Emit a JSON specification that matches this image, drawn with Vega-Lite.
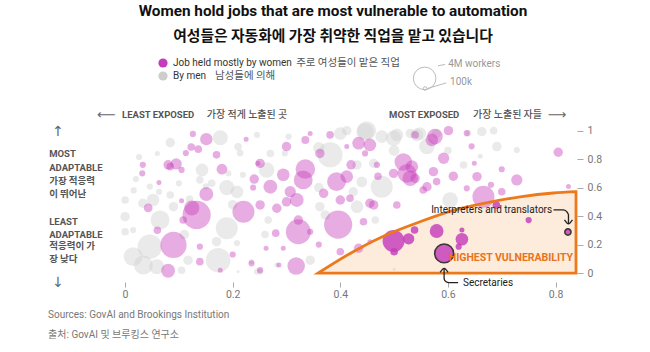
{
"$schema":"https://vega.github.io/schema/vega-lite/v6.json",
"width":466,"height":176,
"autosize":{"type":"none"},
"padding":{"left":110,"top":105,"right":74,"bottom":71},
"background":"#ffffff",
"config":{"view":{"stroke":null},"font":"Roboto, Noto Sans CJK KR, sans-serif"},
"title":{"text":"Women hold jobs that are most vulnerable to automation","subtitle":"여성들은 자동화에 가장 취약한 직업을 맡고 있습니다","anchor":"middle","frame":"group","offset":14,"dx":-10,"font":"Roboto","fontSize":15.3,"fontWeight":"bold","color":"#111111","subtitleFont":"Noto Sans CJK KR","subtitleFontSize":14.8,"subtitleFontWeight":"bold","subtitleColor":"#111111","subtitlePadding":10},
"datasets":{
"one":[{}],
"zone":[{"x":0.359,"y":0},{"x":0.424,"y":0.15},{"x":0.487,"y":0.27},{"x":0.548,"y":0.36},{"x":0.61,"y":0.44},{"x":0.673,"y":0.495},{"x":0.734,"y":0.535},{"x":0.796,"y":0.562},{"x":0.838,"y":0.571}],
"arrows":[
{"a":"i","o":1,"x":0.7962,"y":0.443},{"a":"i","o":2,"x":0.8147,"y":0.443},{"a":"i","o":3,"x":0.8221,"y":0.425},{"a":"i","o":4,"x":0.824,"y":0.408},{"a":"i","o":5,"x":0.824,"y":0.345},
{"a":"ih","o":1,"x":0.8166,"y":0.373},{"a":"ih","o":2,"x":0.824,"y":0.345},{"a":"ih","o":3,"x":0.8314,"y":0.373},
{"a":"s","o":1,"x":0.6189,"y":-0.068},{"a":"s","o":2,"x":0.6022,"y":-0.068},{"a":"s","o":3,"x":0.5955,"y":-0.058},{"a":"s","o":4,"x":0.5929,"y":-0.04},{"a":"s","o":5,"x":0.5929,"y":0.03},
{"a":"sh","o":1,"x":0.5855,"y":0.005},{"a":"sh","o":2,"x":0.5929,"y":0.033},{"a":"sh","o":3,"x":0.6003,"y":0.005}],
"jobs":[
{"x":0.177,"y":0.95,"n":1800000,"g":"men","z":"other"},{"x":0.084,"y":0.916,"n":700000,"g":"men","z":"other"},{"x":0.21,"y":0.886,"n":450000,"g":"men","z":"other"},{"x":0.214,"y":0.843,"n":350000,"g":"men","z":"other"},{"x":0.026,"y":0.815,"n":300000,"g":"men","z":"other"},{"x":0.143,"y":0.724,"n":1250000,"g":"men","z":"other"},{"x":0.139,"y":0.654,"n":450000,"g":"men","z":"other"},{"x":0.192,"y":0.7,"n":300000,"g":"men","z":"other"},{"x":0.219,"y":0.69,"n":300000,"g":"men","z":"other"},{"x":0.1,"y":0.63,"n":300000,"g":"men","z":"other"},{"x":0.161,"y":0.63,"n":450000,"g":"men","z":"other"},{"x":0.189,"y":0.6,"n":1800000,"g":"men","z":"other"},{"x":0.208,"y":0.57,"n":1250000,"g":"men","z":"other"},{"x":0.084,"y":0.548,"n":450000,"g":"men","z":"other"},{"x":0.063,"y":0.571,"n":300000,"g":"men","z":"other"},{"x":0.0,"y":0.513,"n":450000,"g":"men","z":"other"},{"x":0.052,"y":0.513,"n":1250000,"g":"men","z":"other"},{"x":0.033,"y":0.49,"n":700000,"g":"men","z":"other"},{"x":0.09,"y":0.466,"n":700000,"g":"men","z":"other"},{"x":0.189,"y":0.314,"n":3800000,"g":"men","z":"other"},{"x":0.065,"y":0.372,"n":2800000,"g":"men","z":"other"},{"x":0.0,"y":0.29,"n":450000,"g":"men","z":"other"},{"x":0.015,"y":0.302,"n":300000,"g":"men","z":"other"},{"x":0.0,"y":0.396,"n":700000,"g":"men","z":"other"},{"x":0.046,"y":0.185,"n":4700000,"g":"men","z":"other"},{"x":0.015,"y":0.115,"n":2800000,"g":"men","z":"other"},{"x":0.034,"y":0.056,"n":2800000,"g":"men","z":"other"},{"x":0.059,"y":0.044,"n":1800000,"g":"men","z":"other"},{"x":0.173,"y":0.09,"n":4700000,"g":"men","z":"other"},{"x":0.105,"y":0.02,"n":450000,"g":"men","z":"other"},{"x":0.117,"y":0.09,"n":700000,"g":"men","z":"other"},{"x":0.21,"y":0.01,"n":80000,"g":"men","z":"other"},{"x":0.208,"y":0.21,"n":300000,"g":"men","z":"other"},{"x":0.235,"y":0.08,"n":200000,"g":"men","z":"other"},{"x":0.245,"y":0.01,"n":300000,"g":"men","z":"other"},{"x":0.245,"y":0.97,"n":300000,"g":"men","z":"other"},{"x":0.304,"y":0.958,"n":300000,"g":"men","z":"other"},{"x":0.4,"y":0.98,"n":1250000,"g":"men","z":"other"},{"x":0.412,"y":1.0,"n":700000,"g":"men","z":"other"},{"x":0.446,"y":0.993,"n":2400000,"g":"men","z":"other"},{"x":0.477,"y":0.958,"n":1250000,"g":"men","z":"other"},{"x":0.505,"y":0.97,"n":1250000,"g":"men","z":"other"},{"x":0.53,"y":0.98,"n":700000,"g":"men","z":"other"},{"x":0.297,"y":0.84,"n":300000,"g":"men","z":"other"},{"x":0.381,"y":0.83,"n":4900000,"g":"men","z":"other"},{"x":0.36,"y":0.88,"n":1000000,"g":"men","z":"other"},{"x":0.431,"y":0.759,"n":700000,"g":"men","z":"other"},{"x":0.462,"y":0.77,"n":700000,"g":"men","z":"other"},{"x":0.263,"y":0.724,"n":1900000,"g":"men","z":"other"},{"x":0.477,"y":0.606,"n":3800000,"g":"men","z":"other"},{"x":0.424,"y":0.571,"n":700000,"g":"men","z":"other"},{"x":0.362,"y":0.466,"n":700000,"g":"men","z":"other"},{"x":0.372,"y":0.408,"n":700000,"g":"men","z":"other"},{"x":0.266,"y":0.372,"n":450000,"g":"men","z":"other"},{"x":0.431,"y":0.466,"n":1250000,"g":"men","z":"other"},{"x":0.465,"y":0.372,"n":450000,"g":"men","z":"other"},{"x":0.344,"y":0.09,"n":700000,"g":"men","z":"other"},{"x":0.282,"y":0.056,"n":200000,"g":"men","z":"other"},{"x":0.251,"y":0.01,"n":300000,"g":"men","z":"other"},{"x":0.5,"y":0.026,"n":80000,"g":"men","z":"other"},{"x":0.542,"y":0.97,"n":1250000,"g":"men","z":"other"},{"x":0.561,"y":0.888,"n":1900000,"g":"men","z":"other"},{"x":0.638,"y":0.982,"n":300000,"g":"men","z":"other"},{"x":0.663,"y":0.993,"n":700000,"g":"men","z":"other"},{"x":0.685,"y":1.0,"n":450000,"g":"men","z":"other"},{"x":0.691,"y":0.888,"n":700000,"g":"men","z":"other"},{"x":0.728,"y":0.864,"n":300000,"g":"men","z":"other"},{"x":0.629,"y":0.759,"n":450000,"g":"men","z":"other"},{"x":0.604,"y":0.513,"n":1900000,"g":"men","z":"other"},{"x":0.499,"y":0.947,"n":1900000,"g":"men","z":"other"},{"x":0.449,"y":1.0,"n":2800000,"g":"men","z":"other"},{"x":0.548,"y":0.98,"n":1250000,"g":"men","z":"other"},{"x":0.579,"y":0.98,"n":700000,"g":"men","z":"other"},{"x":0.15,"y":0.608,"n":300000,"g":"men","z":"other"},{"x":0.046,"y":0.607,"n":300000,"g":"men","z":"other"},{"x":0.016,"y":0.58,"n":300000,"g":"men","z":"other"},
{"x":0.02,"y":0.66,"n":300000,"g":"men","z":"other"},{"x":0.06,"y":0.84,"n":200000,"g":"men","z":"other"},{"x":0.12,"y":0.52,"n":450000,"g":"men","z":"other"},{"x":0.2,"y":0.48,"n":700000,"g":"men","z":"other"},{"x":0.27,"y":0.84,"n":450000,"g":"men","z":"other"},{"x":0.36,"y":0.6,"n":700000,"g":"men","z":"other"},{"x":0.44,"y":0.64,"n":900000,"g":"men","z":"other"},{"x":0.5,"y":0.86,"n":900000,"g":"men","z":"other"},{"x":0.6,"y":0.86,"n":450000,"g":"men","z":"other"},{"x":0.66,"y":0.82,"n":200000,"g":"men","z":"other"},{"x":0.17,"y":0.22,"n":700000,"g":"men","z":"other"},{"x":0.26,"y":0.27,"n":450000,"g":"men","z":"other"},{"x":0.11,"y":0.27,"n":700000,"g":"men","z":"other"},
{"x":0.126,"y":0.977,"n":300000,"g":"women","z":"other"},{"x":0.151,"y":0.94,"n":1200000,"g":"women","z":"other"},{"x":0.123,"y":0.885,"n":450000,"g":"women","z":"other"},{"x":0.136,"y":0.87,"n":450000,"g":"women","z":"other"},{"x":0.113,"y":0.843,"n":300000,"g":"women","z":"other"},{"x":0.225,"y":0.94,"n":200000,"g":"women","z":"other"},{"x":0.033,"y":0.76,"n":300000,"g":"women","z":"other"},{"x":0.032,"y":0.7,"n":300000,"g":"women","z":"other"},{"x":0.095,"y":0.766,"n":1000000,"g":"women","z":"other"},{"x":0.084,"y":0.747,"n":450000,"g":"women","z":"other"},{"x":0.105,"y":0.724,"n":300000,"g":"women","z":"other"},{"x":0.08,"y":0.76,"n":700000,"g":"women","z":"other"},{"x":0.18,"y":0.729,"n":900000,"g":"women","z":"other"},{"x":0.247,"y":0.77,"n":200000,"g":"women","z":"other"},{"x":0.238,"y":0.6,"n":300000,"g":"women","z":"other"},{"x":0.063,"y":0.635,"n":200000,"g":"women","z":"other"},{"x":0.151,"y":0.555,"n":1500000,"g":"women","z":"other"},{"x":0.105,"y":0.508,"n":200000,"g":"women","z":"other"},{"x":0.043,"y":0.457,"n":600000,"g":"women","z":"other"},{"x":0.124,"y":0.457,"n":1800000,"g":"women","z":"other"},{"x":0.22,"y":0.43,"n":3800000,"g":"women","z":"other"},{"x":0.133,"y":0.408,"n":6250000,"g":"women","z":"other"},{"x":0.108,"y":0.372,"n":450000,"g":"women","z":"other"},{"x":0.09,"y":0.197,"n":5400000,"g":"women","z":"other"},{"x":0.139,"y":0.185,"n":300000,"g":"women","z":"other"},{"x":0.139,"y":0.08,"n":450000,"g":"women","z":"other"},{"x":0.08,"y":0.016,"n":1500000,"g":"women","z":"other"},{"x":0.177,"y":0.02,"n":200000,"g":"women","z":"other"},{"x":0.235,"y":0.068,"n":300000,"g":"women","z":"other"},{"x":0.251,"y":0.02,"n":300000,"g":"women","z":"other"},{"x":0.286,"y":0.056,"n":200000,"g":"women","z":"other"},{"x":0.335,"y":0.935,"n":500000,"g":"women","z":"other"},{"x":0.344,"y":0.98,"n":200000,"g":"women","z":"other"},{"x":0.381,"y":0.97,"n":450000,"g":"women","z":"other"},{"x":0.455,"y":0.9,"n":1250000,"g":"women","z":"other"},{"x":0.446,"y":0.84,"n":300000,"g":"women","z":"other"},{"x":0.3,"y":0.888,"n":700000,"g":"women","z":"other"},{"x":0.362,"y":0.84,"n":700000,"g":"women","z":"other"},{"x":0.412,"y":0.888,"n":200000,"g":"women","z":"other"},{"x":0.251,"y":0.77,"n":700000,"g":"women","z":"other"},{"x":0.294,"y":0.69,"n":1250000,"g":"women","z":"other"},{"x":0.335,"y":0.73,"n":3000000,"g":"women","z":"other"},{"x":0.331,"y":0.654,"n":2800000,"g":"women","z":"other"},{"x":0.393,"y":0.642,"n":2800000,"g":"women","z":"other"},{"x":0.412,"y":0.677,"n":1250000,"g":"women","z":"other"},{"x":0.468,"y":0.76,"n":300000,"g":"women","z":"other"},{"x":0.517,"y":0.78,"n":2400000,"g":"women","z":"other"},{"x":0.524,"y":0.7,"n":2800000,"g":"women","z":"other"},{"x":0.499,"y":0.7,"n":700000,"g":"women","z":"other"},{"x":0.539,"y":0.665,"n":700000,"g":"women","z":"other"},{"x":0.369,"y":0.56,"n":700000,"g":"women","z":"other"},{"x":0.27,"y":0.606,"n":1500000,"g":"women","z":"other"},{"x":0.307,"y":0.571,"n":1000000,"g":"women","z":"other"},{"x":0.3,"y":0.5,"n":700000,"g":"women","z":"other"},{"x":0.319,"y":0.513,"n":1500000,"g":"women","z":"other"},{"x":0.4,"y":0.513,"n":700000,"g":"women","z":"other"},{"x":0.418,"y":0.525,"n":450000,"g":"women","z":"other"},{"x":0.455,"y":0.49,"n":700000,"g":"women","z":"other"},{"x":0.505,"y":0.478,"n":450000,"g":"women","z":"other"},{"x":0.251,"y":0.478,"n":700000,"g":"women","z":"other"},{"x":0.282,"y":0.455,"n":700000,"g":"women","z":"other"},{"x":0.396,"y":0.34,"n":6250000,"g":"women","z":"other"},{"x":0.322,"y":0.29,"n":4900000,"g":"women","z":"other"},{"x":0.322,"y":0.372,"n":700000,"g":"women","z":"other"},{"x":0.344,"y":0.29,"n":300000,"g":"women","z":"other"},{"x":0.443,"y":0.36,"n":450000,"g":"women","z":"other"},{"x":0.462,"y":0.478,"n":700000,"g":"women","z":"other"},{"x":0.262,"y":0.174,"n":200000,"g":"women","z":"other"},{"x":0.294,"y":0.174,"n":200000,"g":"women","z":"other"},{"x":0.4,"y":0.15,"n":450000,"g":"women","z":"other"},{"x":0.434,"y":0.174,"n":700000,"g":"women","z":"other"},{"x":0.455,"y":0.22,"n":200000,"g":"women","z":"other"},{"x":0.318,"y":0.049,"n":2400000,"g":"women","z":"other"},{"x":0.666,"y":0.536,"n":3800000,"g":"women","z":"other"},{"x":0.7,"y":0.571,"n":450000,"g":"women","z":"other"},{"x":0.728,"y":0.654,"n":1000000,"g":"women","z":"other"},{"x":0.7,"y":0.729,"n":300000,"g":"women","z":"other"},{"x":0.805,"y":0.848,"n":700000,"g":"women","z":"other"},{"x":0.824,"y":0.608,"n":200000,"g":"women","z":"other"},{"x":0.649,"y":0.771,"n":200000,"g":"women","z":"other"},{"x":0.644,"y":0.89,"n":300000,"g":"women","z":"other"},{"x":0.635,"y":0.982,"n":300000,"g":"women","z":"other"},{"x":0.601,"y":1.0,"n":700000,"g":"women","z":"other"},{"x":0.57,"y":0.935,"n":1250000,"g":"women","z":"other"},{"x":0.434,"y":0.912,"n":1250000,"g":"women","z":"other"},{"x":0.53,"y":0.665,"n":1900000,"g":"women","z":"other"},{"x":0.579,"y":0.642,"n":450000,"g":"women","z":"other"},{"x":0.554,"y":0.583,"n":450000,"g":"women","z":"other"},{"x":0.654,"y":0.677,"n":700000,"g":"women","z":"other"},{"x":0.635,"y":0.595,"n":300000,"g":"women","z":"other"},{"x":0.592,"y":0.806,"n":1000000,"g":"women","z":"other"},{"x":0.576,"y":0.958,"n":1900000,"g":"women","z":"other"},{"x":0.573,"y":0.712,"n":700000,"g":"women","z":"other"},{"x":0.533,"y":0.747,"n":1250000,"g":"women","z":"other"},{"x":0.561,"y":0.606,"n":700000,"g":"women","z":"other"},{"x":0.539,"y":0.97,"n":450000,"g":"women","z":"other"},
{"x":0.17,"y":0.83,"n":450000,"g":"women","z":"other"},{"x":0.24,"y":0.66,"n":700000,"g":"women","z":"other"},{"x":0.28,"y":0.28,"n":450000,"g":"women","z":"other"},{"x":0.36,"y":0.2,"n":300000,"g":"women","z":"other"},{"x":0.42,"y":0.76,"n":700000,"g":"women","z":"other"},{"x":0.47,"y":0.68,"n":450000,"g":"women","z":"other"},{"x":0.61,"y":0.68,"n":700000,"g":"women","z":"other"},{"x":0.68,"y":0.62,"n":300000,"g":"women","z":"other"},{"x":0.2,"y":0.13,"n":300000,"g":"women","z":"other"},{"x":0.06,"y":0.3,"n":450000,"g":"women","z":"other"},
{"x":0.499,"y":0.225,"n":3800000,"g":"women","z":"high"},{"x":0.527,"y":0.24,"n":1000000,"g":"women","z":"high"},{"x":0.538,"y":0.302,"n":450000,"g":"women","z":"high"},{"x":0.5,"y":0.15,"n":450000,"g":"women","z":"high"},{"x":0.579,"y":0.295,"n":1500000,"g":"women","z":"high"},{"x":0.626,"y":0.302,"n":200000,"g":"women","z":"high"},{"x":0.626,"y":0.237,"n":1250000,"g":"women","z":"high"},{"x":0.62,"y":0.185,"n":300000,"g":"women","z":"high"},{"x":0.593,"y":0.138,"n":2800000,"g":"women","z":"high","lab":"Secretaries"},{"x":0.823,"y":0.288,"n":300000,"g":"women","z":"high","lab":"Interpreters and translators"},{"x":0.75,"y":0.372,"n":300000,"g":"women","z":"high"},{"x":0.69,"y":0.478,"n":450000,"g":"women","z":"high"}
]},
"layer":[
{"data":{"name":"zone"},"mark":{"type":"area","interpolate":"monotone","fill":"#fdebdc","fillOpacity":1},
 "encoding":{"x":{"field":"x","type":"quantitative","scale":{"domain":[-0.028,0.838],"nice":false,"zero":false},
   "axis":{"values":[0,0.2,0.4,0.6,0.8],"tickCount":20,"labelOverlap":false,"format":"~g","domain":false,"grid":false,"ticks":true,"tickColor":"#aaaaaa","tickSize":5,"labelColor":"#777777","labelFontSize":10.5,"labelFont":"Roboto","title":null,"offset":1,"labelPadding":2}},
 "y":{"field":"y","type":"quantitative","scale":{"domain":[-0.056,1.18],"nice":false,"zero":false},
   "axis":{"orient":"right","values":[0,0.2,0.4,0.6,0.8,1],"tickCount":20,"labelOverlap":false,"format":"~g","domain":false,"grid":false,"ticks":true,"tickColor":"#aaaaaa","tickSize":6,"labelColor":"#777777","labelFontSize":10.5,"labelFont":"Roboto","title":null,"offset":1,"labelPadding":4}},
 "y2":{"datum":0}}},
{"data":{"name":"jobs"},"mark":{"type":"point","filled":true,"shape":"circle","stroke":"#111111"},
 "encoding":{"x":{"field":"x","type":"quantitative","scale":{"domain":[-0.028,0.838],"nice":false,"zero":false}},
 "y":{"field":"y","type":"quantitative","scale":{"domain":[-0.056,1.18],"nice":false,"zero":false}},
 "size":{"field":"n","type":"quantitative","scale":{"domain":[0,4000000],"range":[0,510]},"legend":null},
 "color":{"field":"g","type":"nominal","scale":{"domain":["women","men"],"range":["#c53cbb","#cdcdcd"]},
   "legend":{"orient":"none","legendX":48,"legendY":-47,"title":null,"padding":0,"symbolType":"circle","symbolSize":85,"symbolOpacity":1,"symbolStrokeWidth":0,"labelFont":"Roboto","labelFontSize":10,"labelColor":"#333333","rowPadding":3,"labelOffset":5,"labelLimit":300,
   "labelExpr":"datum.value == 'women' ? 'Job held mostly by women' : 'By men'"}},
 "opacity":{"field":"z","type":"nominal","scale":{"domain":["other","high"],"range":[0.42,0.82]},"legend":null},
 "strokeWidth":{"condition":{"test":"datum.lab != null","value":1.6},"value":0}}},
{"data":{"name":"zone"},"mark":{"type":"area","interpolate":"monotone","fillOpacity":0,"stroke":"#ec7a1c","strokeWidth":2.8,"strokeJoin":"miter"},
 "encoding":{"x":{"field":"x","type":"quantitative","scale":{"domain":[-0.028,0.838],"nice":false,"zero":false}},
 "y":{"field":"y","type":"quantitative","scale":{"domain":[-0.056,1.18],"nice":false,"zero":false}},
 "y2":{"datum":0}}},
{"data":{"name":"arrows"},"mark":{"type":"line","color":"#222222","strokeWidth":1.3,"interpolate":"monotone"},
 "encoding":{"x":{"field":"x","type":"quantitative","scale":{"domain":[-0.028,0.838],"nice":false,"zero":false}},
 "y":{"field":"y","type":"quantitative","scale":{"domain":[-0.056,1.18],"nice":false,"zero":false}},
 "detail":{"field":"a"},"order":{"field":"o"}}},
{"data":{"name":"one"},"mark":{"type":"text","align":"left","baseline":"middle","font":"Roboto","fontSize":10.5,"fontWeight":"bold","color":"#e8731a","text":"HIGHEST VULNERABILITY"},
 "encoding":{"x":{"datum":0.6015,"type":"quantitative","scale":{"domain":[-0.028,0.838],"nice":false,"zero":false}},"y":{"datum":0.105,"type":"quantitative","scale":{"domain":[-0.056,1.18],"nice":false,"zero":false}}}},
{"data":{"name":"one"},"mark":{"type":"text","align":"left","baseline":"middle","font":"Roboto","fontSize":10,"color":"#222222","text":"Interpreters and translators"},
 "encoding":{"x":{"datum":0.5688,"type":"quantitative","scale":{"domain":[-0.028,0.838],"nice":false,"zero":false}},"y":{"datum":0.443,"type":"quantitative","scale":{"domain":[-0.056,1.18],"nice":false,"zero":false}}}},
{"data":{"name":"one"},"mark":{"type":"text","align":"left","baseline":"middle","font":"Roboto","fontSize":10,"color":"#222222","text":"Secretaries"},
 "encoding":{"x":{"datum":0.628,"type":"quantitative","scale":{"domain":[-0.028,0.838],"nice":false,"zero":false}},"y":{"datum":-0.068,"type":"quantitative","scale":{"domain":[-0.056,1.18],"nice":false,"zero":false}}}},
{"data":{"name":"one"},"mark":{"type":"text","align":"center","baseline":"middle","font":"DejaVu Sans","fontSize":13,"color":"#666666","text":"⟵"},
 "encoding":{"x":{"datum":-0.035,"type":"quantitative","scale":{"domain":[-0.028,0.838],"nice":false,"zero":false}},"y":{"datum":1.11,"type":"quantitative","scale":{"domain":[-0.056,1.18],"nice":false,"zero":false}}}},
{"data":{"name":"one"},"mark":{"type":"text","align":"left","baseline":"middle","font":"Roboto","fontSize":9.5,"fontWeight":"bold","color":"#555555","text":"LEAST EXPOSED"},
 "encoding":{"x":{"datum":-0.0056,"type":"quantitative","scale":{"domain":[-0.028,0.838],"nice":false,"zero":false}},"y":{"datum":1.11,"type":"quantitative","scale":{"domain":[-0.056,1.18],"nice":false,"zero":false}}}},
{"data":{"name":"one"},"mark":{"type":"text","align":"left","baseline":"middle","font":"Noto Sans CJK KR","fontSize":10,"fontWeight":500,"color":"#555555","text":"가장 적게 노출된 곳"},
 "encoding":{"x":{"datum":0.152,"type":"quantitative","scale":{"domain":[-0.028,0.838],"nice":false,"zero":false}},"y":{"datum":1.11,"type":"quantitative","scale":{"domain":[-0.056,1.18],"nice":false,"zero":false}}}},
{"data":{"name":"one"},"mark":{"type":"text","align":"left","baseline":"middle","font":"Roboto","fontSize":9.5,"fontWeight":"bold","color":"#555555","text":"MOST EXPOSED"},
 "encoding":{"x":{"datum":0.4907,"type":"quantitative","scale":{"domain":[-0.028,0.838],"nice":false,"zero":false}},"y":{"datum":1.11,"type":"quantitative","scale":{"domain":[-0.056,1.18],"nice":false,"zero":false}}}},
{"data":{"name":"one"},"mark":{"type":"text","align":"left","baseline":"middle","font":"Noto Sans CJK KR","fontSize":10,"fontWeight":500,"color":"#555555","text":"가장 노출된 자들"},
 "encoding":{"x":{"datum":0.6468,"type":"quantitative","scale":{"domain":[-0.028,0.838],"nice":false,"zero":false}},"y":{"datum":1.11,"type":"quantitative","scale":{"domain":[-0.056,1.18],"nice":false,"zero":false}}}},
{"data":{"name":"one"},"mark":{"type":"text","align":"center","baseline":"middle","font":"DejaVu Sans","fontSize":13,"color":"#666666","text":"⟶"},
 "encoding":{"x":{"datum":0.803,"type":"quantitative","scale":{"domain":[-0.028,0.838],"nice":false,"zero":false}},"y":{"datum":1.11,"type":"quantitative","scale":{"domain":[-0.056,1.18],"nice":false,"zero":false}}}},
{"data":{"name":"one"},"mark":{"type":"text","align":"center","baseline":"middle","font":"DejaVu Sans","fontSize":14,"color":"#666666","text":"↑"},
 "encoding":{"x":{"datum":-0.1245,"type":"quantitative","scale":{"domain":[-0.028,0.838],"nice":false,"zero":false}},"y":{"datum":0.99,"type":"quantitative","scale":{"domain":[-0.056,1.18],"nice":false,"zero":false}}}},
{"data":{"name":"one"},"mark":{"type":"text","align":"center","baseline":"middle","font":"DejaVu Sans","fontSize":14,"color":"#666666","text":"↓"},
 "encoding":{"x":{"datum":-0.1245,"type":"quantitative","scale":{"domain":[-0.028,0.838],"nice":false,"zero":false}},"y":{"datum":-0.07,"type":"quantitative","scale":{"domain":[-0.056,1.18],"nice":false,"zero":false}}}},
{"data":{"name":"one"},"mark":{"type":"text","align":"left","baseline":"alphabetic","font":"Roboto","fontSize":9.5,"fontWeight":"bold","color":"#555555","lineHeight":14,"text":["MOST","ADAPTABLE"]},
 "encoding":{"x":{"datum":-0.141,"type":"quantitative","scale":{"domain":[-0.028,0.838],"nice":false,"zero":false}},"y":{"datum":0.815,"type":"quantitative","scale":{"domain":[-0.056,1.18],"nice":false,"zero":false}}}},
{"data":{"name":"one"},"mark":{"type":"text","align":"left","baseline":"alphabetic","font":"Noto Sans CJK KR","fontSize":9.5,"fontWeight":"bold","color":"#555555","lineHeight":12.5,"text":[" 가장 적응력","이 뛰어난"]},
 "encoding":{"x":{"datum":-0.141,"type":"quantitative","scale":{"domain":[-0.028,0.838],"nice":false,"zero":false}},"y":{"datum":0.625,"type":"quantitative","scale":{"domain":[-0.056,1.18],"nice":false,"zero":false}}}},
{"data":{"name":"one"},"mark":{"type":"text","align":"left","baseline":"alphabetic","font":"Roboto","fontSize":9.5,"fontWeight":"bold","color":"#555555","lineHeight":12.5,"text":["LEAST","ADAPTABLE"]},
 "encoding":{"x":{"datum":-0.141,"type":"quantitative","scale":{"domain":[-0.028,0.838],"nice":false,"zero":false}},"y":{"datum":0.337,"type":"quantitative","scale":{"domain":[-0.056,1.18],"nice":false,"zero":false}}}},
{"data":{"name":"one"},"mark":{"type":"text","align":"left","baseline":"alphabetic","font":"Noto Sans CJK KR","fontSize":9.5,"fontWeight":"bold","color":"#555555","lineHeight":13,"text":[" 적응력이 가","장 낮다"]},
 "encoding":{"x":{"datum":-0.141,"type":"quantitative","scale":{"domain":[-0.028,0.838],"nice":false,"zero":false}},"y":{"datum":0.169,"type":"quantitative","scale":{"domain":[-0.056,1.18],"nice":false,"zero":false}}}},
{"data":{"name":"one"},"mark":{"type":"text","align":"left","baseline":"middle","font":"Roboto, Noto Sans CJK KR","fontSize":10,"color":"#777777","text":"Sources: GovAI and Brookings Institution"},
 "encoding":{"x":{"datum":-0.143,"type":"quantitative","scale":{"domain":[-0.028,0.838],"nice":false,"zero":false}},"y":{"datum":-0.295,"type":"quantitative","scale":{"domain":[-0.056,1.18],"nice":false,"zero":false}}}},
{"data":{"name":"one"},"mark":{"type":"text","align":"left","baseline":"middle","font":"Roboto, Noto Sans CJK KR","fontSize":10,"color":"#777777","text":"출처: GovAI 및 브루킹스 연구소"},
 "encoding":{"x":{"datum":-0.143,"type":"quantitative","scale":{"domain":[-0.028,0.838],"nice":false,"zero":false}},"y":{"datum":-0.436,"type":"quantitative","scale":{"domain":[-0.056,1.18],"nice":false,"zero":false}}}},
{"data":{"name":"one"},"mark":{"type":"text","align":"left","baseline":"middle","font":"Noto Sans CJK KR","fontSize":10.5,"color":"#555555","text":"주로 여성들이 맡은 직업"},
 "encoding":{"x":{"datum":0.318,"type":"quantitative","scale":{"domain":[-0.028,0.838],"nice":false,"zero":false}},"y":{"datum":1.476,"type":"quantitative","scale":{"domain":[-0.056,1.18],"nice":false,"zero":false}}}},
{"data":{"name":"one"},"mark":{"type":"text","align":"left","baseline":"middle","font":"Noto Sans CJK KR","fontSize":10.5,"color":"#555555","text":"남성들에 의해"},
 "encoding":{"x":{"datum":0.167,"type":"quantitative","scale":{"domain":[-0.028,0.838],"nice":false,"zero":false}},"y":{"datum":1.384,"type":"quantitative","scale":{"domain":[-0.056,1.18],"nice":false,"zero":false}}}},
{"data":{"name":"one"},"mark":{"type":"point","shape":"circle","filled":false,"stroke":"#bbbbbb","strokeWidth":1,"opacity":1},
 "encoding":{"x":{"datum":0.5567,"type":"quantitative","scale":{"domain":[-0.028,0.838],"nice":false,"zero":false}},"y":{"datum":1.367,"type":"quantitative","scale":{"domain":[-0.056,1.18],"nice":false,"zero":false}},
 "size":{"datum":4000000,"type":"quantitative","scale":{"domain":[0,4000000],"range":[0,510]},"legend":null}}},
{"data":{"name":"one"},"mark":{"type":"point","shape":"circle","filled":false,"stroke":"#bbbbbb","strokeWidth":1,"opacity":1},
 "encoding":{"x":{"datum":0.5576,"type":"quantitative","scale":{"domain":[-0.028,0.838],"nice":false,"zero":false}},"y":{"datum":1.296,"type":"quantitative","scale":{"domain":[-0.056,1.18],"nice":false,"zero":false}},
 "size":{"datum":100000,"type":"quantitative","scale":{"domain":[0,4000000],"range":[0,510]},"legend":null}}},
{"data":{"name":"one"},"mark":{"type":"rule","color":"#bbbbbb","strokeWidth":1},
 "encoding":{"x":{"datum":0.5814,"type":"quantitative","scale":{"domain":[-0.028,0.838],"nice":false,"zero":false}},"y":{"datum":1.455,"type":"quantitative","scale":{"domain":[-0.056,1.18],"nice":false,"zero":false}},"x2":{"datum":0.5948},"y2":{"datum":1.465}}},
{"data":{"name":"one"},"mark":{"type":"rule","color":"#bbbbbb","strokeWidth":1},
 "encoding":{"x":{"datum":0.5618,"type":"quantitative","scale":{"domain":[-0.028,0.838],"nice":false,"zero":false}},"y":{"datum":1.296,"type":"quantitative","scale":{"domain":[-0.056,1.18],"nice":false,"zero":false}},"x2":{"datum":0.5968},"y2":{"datum":1.335}}},
{"data":{"name":"one"},"mark":{"type":"text","align":"left","baseline":"middle","font":"Roboto","fontSize":10,"color":"#999999","text":"4M workers"},
 "encoding":{"x":{"datum":0.6004,"type":"quantitative","scale":{"domain":[-0.028,0.838],"nice":false,"zero":false}},"y":{"datum":1.469,"type":"quantitative","scale":{"domain":[-0.056,1.18],"nice":false,"zero":false}}}},
{"data":{"name":"one"},"mark":{"type":"text","align":"left","baseline":"middle","font":"Roboto","fontSize":10,"color":"#999999","text":"100k"},
 "encoding":{"x":{"datum":0.604,"type":"quantitative","scale":{"domain":[-0.028,0.838],"nice":false,"zero":false}},"y":{"datum":1.34,"type":"quantitative","scale":{"domain":[-0.056,1.18],"nice":false,"zero":false}}}}
]
}
